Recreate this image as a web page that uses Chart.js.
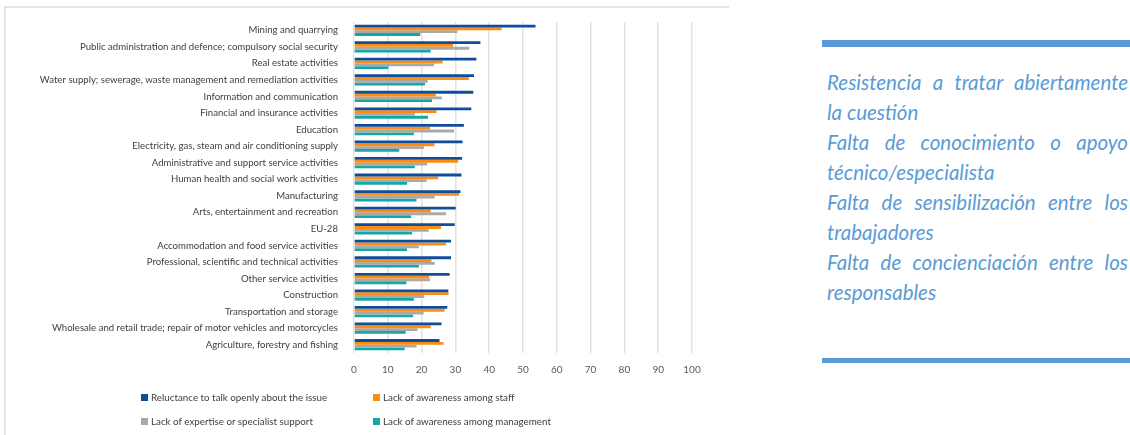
<!DOCTYPE html>
<html>

<head>
    <meta charset="UTF-8">
    <title>Barriers by sector</title>
    <script src="https://cdn.jsdelivr.net/npm/chart.js"></script>
    <style>
        body {
            margin: 0;
            width: 1130px;
            height: 435px;
            position: relative;
            overflow: hidden;
            background: #fff;
        }

        .frame {
            position: absolute;
            left: 4px;
            top: 6px;
            width: 723px;
            height: 440px;
            border-top: 2px solid #e4e4e4;
            border-left: 2px solid #e4e4e4;
        }

        .chart-box {
            position: absolute;
            left: 0;
            top: 0;
            width: 740px;
            height: 435px;
        }

        .legend {
            position: absolute;
            font-family: Lato, sans-serif;
            font-size: 9.8px;
            color: #404040;
            display: flex;
            align-items: center;
            white-space: nowrap;
        }

        .legend i {
            display: inline-block;
            width: 7px;
            height: 7px;
            margin-right: 3px;
        }

        .side {
            position: absolute;
            left: 822px;
            top: 0;
            width: 308px;
            height: 435px;
            color: #5b9bd5;
        }

        .side .bar {
            position: absolute;
            left: 0;
            width: 308px;
            background: #5b9bd5;
        }

        .side .text {
            position: absolute;
            left: 5px;
            top: 67px;
            width: 301px;
            font-family: Lato, sans-serif;
            font-style: italic;
            font-size: 20.5px;
            line-height: 30px;
        }

        .side .text div {
            white-space: nowrap;
        }

        .side .text .full {
            text-align: justify;
            text-align-last: justify;
        }
    </style>
</head>

<body>
    <div class="frame"></div>
    <div class="chart-box">
        <canvas id="barChart" width="740" height="435"></canvas>
    </div>
    <div id="legend"></div>

    <div class="side">
        <div class="bar" style="top: 40px; height: 7px;"></div>
        <div class="text">
            <div class="full">Resistencia a tratar abiertamente</div>
            <div>la cuestión</div>
            <div class="full">Falta de conocimiento o apoyo</div>
            <div>técnico/especialista</div>
            <div class="full">Falta de sensibilización entre los</div>
            <div>trabajadores</div>
            <div class="full">Falta de concienciación entre los</div>
            <div>responsables</div>
        </div>
        <div class="bar" style="top: 358px; height: 5px;"></div>
    </div>

    <script>
        // Sectors, top to bottom
        const sectors = [
            "Mining and quarrying",
            "Public administration and defence; compulsory social security",
            "Real estate activities",
            "Water supply; sewerage, waste management and remediation activities",
            "Information and communication",
            "Financial and insurance activities",
            "Education",
            "Electricity, gas, steam and air conditioning supply",
            "Administrative and support service activities",
            "Human health and social work activities",
            "Manufacturing",
            "Arts, entertainment and recreation",
            "EU-28",
            "Accommodation and food service activities",
            "Professional, scientific and technical activities",
            "Other service activities",
            "Construction",
            "Transportation and storage",
            "Wholesale and retail trade; repair of motor vehicles and motorcycles",
            "Agriculture, forestry and fishing"
        ];

        // Percentages per sector
        const reluctance = [53.7, 37.4, 36.2, 35.5, 35.3, 34.7, 32.5, 32.1, 32.0, 31.8, 31.5, 30.1, 29.8, 28.7, 28.7, 28.3, 27.9, 27.6, 25.9, 25.3];
        const staffAwareness = [43.7, 29.3, 26.2, 34.0, 24.2, 24.4, 22.5, 23.8, 30.8, 24.9, 31.1, 22.7, 25.7, 27.2, 22.9, 22.2, 28.0, 26.8, 22.7, 26.5];
        const expertise = [30.6, 34.1, 23.7, 21.8, 26.0, 18.0, 29.6, 20.7, 21.6, 21.5, 23.9, 27.2, 22.1, 19.2, 23.9, 22.5, 20.8, 20.6, 18.8, 18.5];
        const mgmtAwareness = [19.6, 22.7, 10.2, 21.0, 23.1, 21.9, 17.7, 13.4, 18.0, 15.7, 18.5, 16.9, 17.2, 15.7, 19.2, 15.5, 17.7, 17.5, 15.3, 15.0];

        const seriesNames = [
            "Reluctance to talk openly about the issue",
            "Lack of awareness among staff",
            "Lack of expertise or specialist support",
            "Lack of awareness among management"
        ];
        const seriesColors = ["#0f4c9c", "#fb8d12", "#a9a9a9", "#17a6a6"];

        const xMin = 0;
        const xMax = 100;
        const xStep = 10;

        const values = [reluctance, staffAwareness, expertise, mgmtAwareness];

        const ctx = document.getElementById('barChart').getContext('2d');
        const chart = new Chart(ctx, {
            type: 'bar',
            data: {
                labels: sectors,
                datasets: values.map((v, i) => ({
                    label: seriesNames[i],
                    data: v,
                    backgroundColor: seriesColors[i],
                    borderWidth: 0,
                    barPercentage: 1.0,
                    categoryPercentage: 0.68
                }))
            },
            options: {
                indexAxis: 'y',
                responsive: false,
                animation: false,
                layout: {
                    padding: { top: 22, right: 48, bottom: 52, left: 0 }
                },
                scales: {
                    x: {
                        min: xMin,
                        max: xMax,
                        ticks: {
                            stepSize: xStep,
                            color: '#595959',
                            padding: 11,
                            font: { family: 'Lato', size: 10 }
                        },
                        grid: {
                            color: '#e2e2e2',
                            lineWidth: 1.5,
                            drawTicks: false
                        },
                        border: { display: false },
                        afterFit: function(scale) {
                            scale.height = 30;
                        }
                    },
                    y: {
                        ticks: {
                            color: '#404040',
                            padding: 16,
                            autoSkip: false,
                            font: { family: 'Lato', size: 9.6 }
                        },
                        grid: { display: false, drawTicks: false },
                        border: { display: false },
                        afterFit: function(scale) {
                            scale.width = 354;
                        }
                    }
                },
                plugins: {
                    legend: { display: false },
                    tooltip: { enabled: false }
                }
            }
        });

        // Two-column legend under the axis
        const legendPos = [
            { left: 141, top: 397 },
            { left: 373, top: 397 },
            { left: 141, top: 421 },
            { left: 373, top: 421 }
        ];
        const legendBox = document.getElementById('legend');
        chart.data.datasets.forEach((ds, i) => {
            const item = document.createElement('div');
            item.className = 'legend';
            item.style.left = legendPos[i].left + 'px';
            item.style.top = (legendPos[i].top - 7) + 'px';
            item.style.height = '14px';
            item.innerHTML = '<i style="background:' + ds.backgroundColor + '"></i>' + ds.label;
            legendBox.appendChild(item);
        });
    </script>
</body>

</html>
